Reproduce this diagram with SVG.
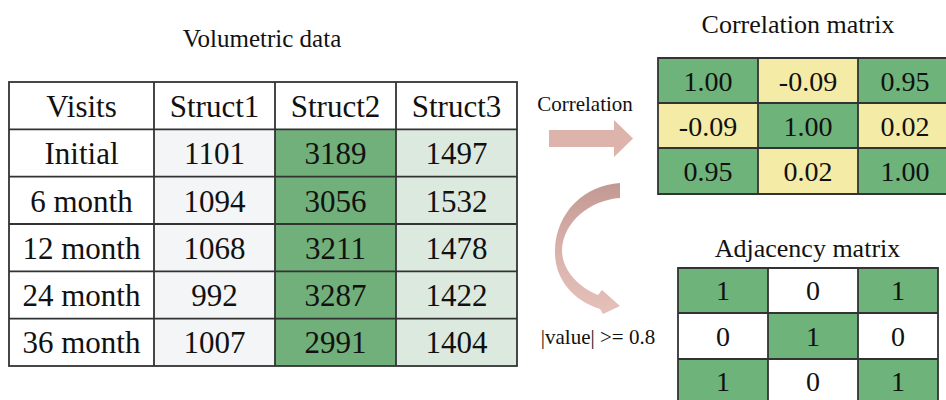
<svg xmlns="http://www.w3.org/2000/svg" width="946" height="400" viewBox="0 0 946 400">
<style>
text{font-family:"Liberation Serif","Times New Roman",serif;fill:#111;text-anchor:middle}
.t{font-size:31px}
.m{font-size:28px}
.ttl{font-size:26px}
.lbl{font-size:21px}
.b{stroke:#333;stroke-width:1.8}
.g{fill:#6db37a}
.y{fill:#f3eba6}
.w{fill:#fff}
</style>
<defs>
<linearGradient id="ag" x1="0" y1="0" x2="0" y2="1">
<stop offset="0" stop-color="#c29893"/>
<stop offset="0.5" stop-color="#d9b1aa"/>
<stop offset="1" stop-color="#e4c1ba"/>
</linearGradient>
</defs>
<rect width="946" height="400" fill="#fff"/>

<g id="volumetric-data">
<text class="ttl" x="262" y="47" style="font-size:25px">Volumetric data</text>
<rect x="9" y="82" width="145" height="284" fill="#fff"/>
<rect x="154" y="129.3" width="121" height="236.7" fill="#f3f5f6"/>
<rect x="275" y="129.3" width="121" height="236.7" fill="#71af7b"/>
<rect x="396" y="129.3" width="121" height="236.7" fill="#dce9df"/>
<rect x="154" y="82" width="363" height="47.3" fill="#fff"/>
<g fill="none" class="b">
<rect x="9" y="82" width="508" height="284"/>
<path d="M154 82V366M275 82V366M396 82V366M9 129.3H517M9 176.7H517M9 224H517M9 271.3H517M9 318.7H517"/>
</g>
<g class="t">
<text x="81.5" y="117">Visits</text>
<text x="214.5" y="117">Struct1</text>
<text x="335.5" y="117">Struct2</text>
<text x="456.5" y="117">Struct3</text>
<text x="81.5" y="164">Initial</text>
<text x="214.5" y="164">1101</text>
<text x="335.5" y="164">3189</text>
<text x="456.5" y="164">1497</text>
<text x="81.5" y="211.5">6 month</text>
<text x="214.5" y="211.5">1094</text>
<text x="335.5" y="211.5">3056</text>
<text x="456.5" y="211.5">1532</text>
<text x="81.5" y="258.7">12 month</text>
<text x="214.5" y="258.7">1068</text>
<text x="335.5" y="258.7">3211</text>
<text x="456.5" y="258.7">1478</text>
<text x="81.5" y="306">24 month</text>
<text x="214.5" y="306">992</text>
<text x="335.5" y="306">3287</text>
<text x="456.5" y="306">1422</text>
<text x="81.5" y="353.3">36 month</text>
<text x="214.5" y="353.3">1007</text>
<text x="335.5" y="353.3">2991</text>
<text x="456.5" y="353.3">1404</text>
</g>
</g>

<g id="correlation-matrix">
<text class="ttl" x="798" y="33">Correlation matrix</text>
<rect class="g" x="658" y="58" width="100" height="45"/>
<rect class="y" x="758" y="58" width="100" height="45"/>
<rect class="g" x="858" y="58" width="100" height="45"/>
<rect class="y" x="658" y="103" width="100" height="45"/>
<rect class="g" x="758" y="103" width="100" height="45"/>
<rect class="y" x="858" y="103" width="100" height="45"/>
<rect class="g" x="658" y="148" width="100" height="46"/>
<rect class="y" x="758" y="148" width="100" height="46"/>
<rect class="g" x="858" y="148" width="100" height="46"/>
<path class="b" fill="none" d="M960 58H658V194H960M758 58V194M858 58V194M658 103H960M658 148H960"/>
<g class="m">
<text x="708" y="91">1.00</text>
<text x="808" y="91">-0.09</text>
<text x="905" y="91">0.95</text>
<text x="708" y="136">-0.09</text>
<text x="808" y="136">1.00</text>
<text x="905" y="136">0.02</text>
<text x="708" y="181">0.95</text>
<text x="808" y="181">0.02</text>
<text x="905" y="181">1.00</text>
</g>
</g>

<g id="adjacency-matrix">
<text class="ttl" x="807.5" y="257">Adjacency matrix</text>
<rect class="g" x="678" y="268" width="90" height="45"/>
<rect class="w" x="768" y="268" width="90" height="45"/>
<rect class="g" x="858" y="268" width="80" height="45"/>
<rect class="w" x="678" y="313" width="90" height="46"/>
<rect class="g" x="768" y="313" width="90" height="46"/>
<rect class="w" x="858" y="313" width="80" height="46"/>
<rect class="g" x="678" y="359" width="90" height="45"/>
<rect class="w" x="768" y="359" width="90" height="45"/>
<rect class="g" x="858" y="359" width="80" height="45"/>
<path class="b" fill="none" d="M678 404V268H938V404M768 268V404M858 268V404M678 313H938M678 359H938"/>
<g class="m">
<text x="723" y="300">1</text>
<text x="813" y="300">0</text>
<text x="898" y="300">1</text>
<text x="723" y="346">0</text>
<text x="813" y="346">1</text>
<text x="898" y="346">0</text>
<text x="723" y="391">1</text>
<text x="813" y="391">0</text>
<text x="898" y="391">1</text>
</g>
</g>

<g id="connectors">
<text class="lbl" x="585" y="111">Correlation</text>
<polygon fill="#dcb4ac" points="549,130 614,130 614,120 633,138.5 614,157 614,147 549,147"/>
<path fill="url(#ag)" d="M620 183L620 198C590 200 563 222 562 250C562 270 578 287 598 295L602 290L620 306L603 314L600 309C572 300 554 278 555 250C556 212 585 185 620 183Z"/>
<text class="lbl" x="598" y="344">|value| &gt;= 0.8</text>
</g>
</svg>
